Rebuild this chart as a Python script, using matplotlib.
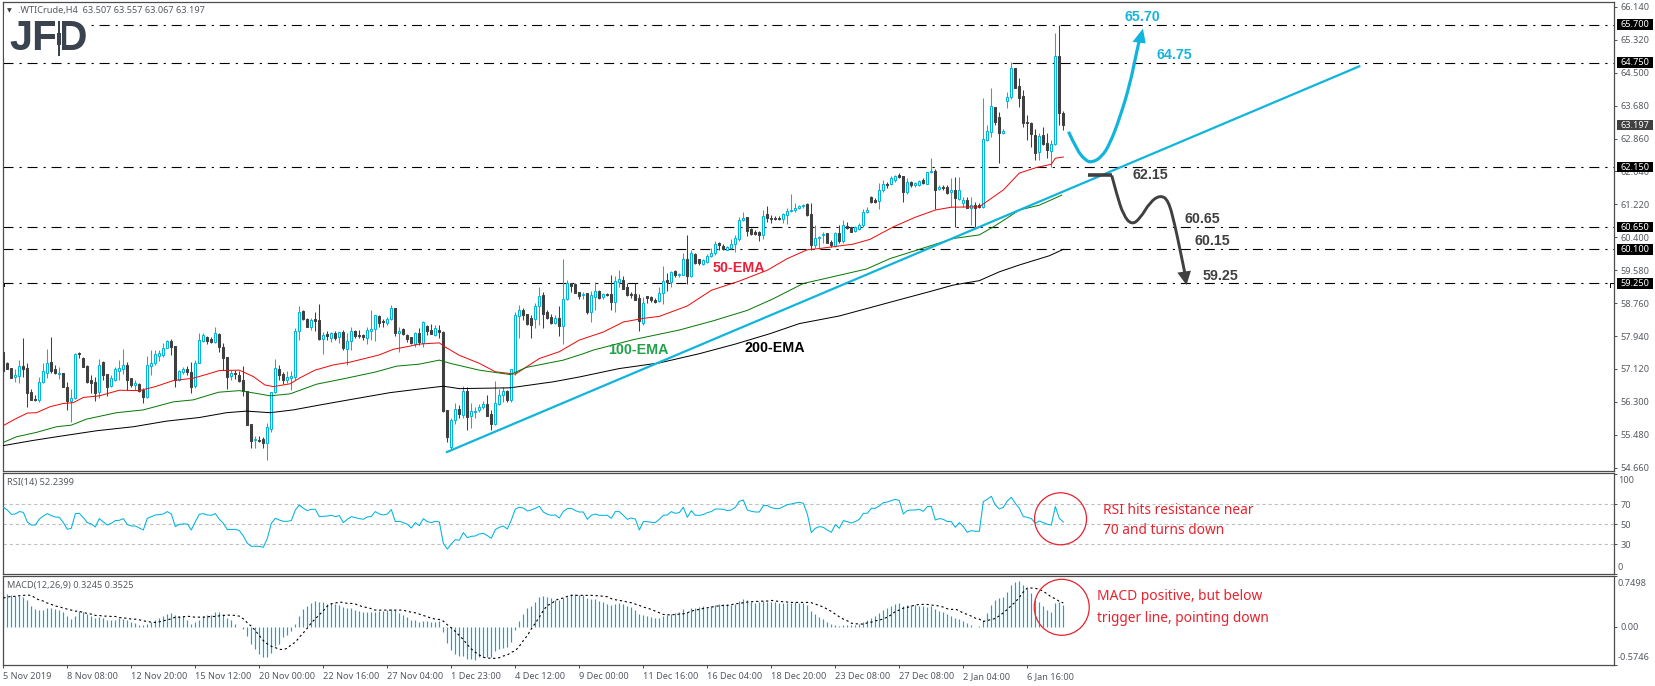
# -*- coding: utf-8 -*-
# WTI H4 chart: candles + EMAs, RSI and MACD panels, with the hand-drawn scenario arrows
import numpy as np
import matplotlib.pyplot as plt
from matplotlib.patches import Ellipse, PathPatch, Polygon, Rectangle
from matplotlib.path import Path

plt.rcParams['font.family'] = ['Noto Sans', 'DejaVu Sans']
plt.rcParams['lines.scale_dashes'] = False

# ---------------------------------------------------------------- candles
highs = [
    57.54,57.30,57.14,57.11,57.34,57.90,57.28,56.61,56.47,56.93,
    57.26,57.62,57.92,57.22,57.17,57.01,56.79,56.61,57.51,57.53,
    57.43,57.22,56.97,56.93,57.38,57.32,57.00,56.97,57.18,57.34,
    57.61,57.30,56.89,56.85,56.76,56.64,57.44,57.58,57.58,57.58,
    57.76,57.84,57.87,57.68,57.09,57.18,57.19,57.30,57.34,58.01,
    58.02,57.95,57.91,58.16,58.01,57.76,57.42,57.09,57.09,57.08,
    57.19,56.56,55.75,55.45,55.45,55.42,55.77,56.54,57.37,57.22,
    57.04,57.08,57.08,58.13,58.69,58.59,58.38,58.38,58.55,58.74,
    58.05,58.07,58.05,58.07,58.05,58.09,58.02,58.16,58.09,58.09,
    57.99,58.17,58.59,58.46,58.46,58.36,58.41,58.71,58.65,58.16,
    58.13,57.99,57.92,58.05,58.13,58.31,58.21,58.23,58.21,58.21,
    58.06,56.09,55.89,56.26,56.22,56.69,56.68,56.28,56.16,56.24,
    56.33,56.47,56.09,56.82,56.61,56.68,56.59,57.13,58.54,58.71,
    58.63,58.50,58.46,58.77,59.17,59.04,58.58,58.50,58.46,58.68,
    59.87,59.33,59.26,59.25,59.04,59.04,59.00,59.07,59.29,59.08,
    59.02,59.00,59.46,59.43,59.58,59.43,59.25,59.04,59.25,58.98,
    58.92,58.95,58.93,58.90,59.15,59.68,59.50,59.55,59.58,59.51,
    60.00,60.45,60.08,60.00,59.87,59.87,59.98,60.14,60.31,60.29,
    60.24,60.18,60.37,60.45,60.91,61.03,60.91,60.62,60.59,60.56,
    61.09,61.17,60.95,60.92,60.92,61.01,61.14,61.47,61.26,61.20,
    61.24,61.26,61.26,60.70,60.43,60.52,60.50,60.33,60.54,60.71,
    60.83,60.79,60.66,60.68,60.75,61.11,61.15,61.43,61.37,61.76,
    61.84,61.79,61.93,61.95,62.01,61.93,61.87,61.81,61.79,61.84,
    61.87,62.03,62.37,62.09,61.70,61.70,61.70,61.87,61.91,61.91,
    61.41,61.40,61.41,61.29,61.25,63.87,63.20,64.12,63.65,63.53,
    63.11,64.03,64.76,64.63,64.36,64.07,63.45,63.27,63.11,62.99,
    63.15,63.01,62.82,65.50,65.70,63.557,
]
body_hi = [
    57.54,57.28,57.14,56.96,57.19,57.19,57.14,56.55,56.36,56.79,
    57.06,57.28,57.29,57.11,57.02,57.01,56.66,56.39,57.49,57.51,
    57.39,57.19,56.85,56.79,57.23,57.29,56.99,56.89,57.11,57.14,
    57.23,57.23,56.89,56.76,56.75,56.60,57.23,57.28,57.49,57.51,
    57.64,57.82,57.82,57.68,57.06,57.11,57.11,57.04,57.26,57.83,
    57.96,57.92,57.87,58.01,57.99,57.67,57.42,57.02,57.02,56.98,
    56.85,56.56,55.75,55.37,55.35,55.37,55.67,56.54,57.14,57.11,
    56.99,56.91,56.95,58.07,58.55,58.57,58.36,58.34,58.36,58.34,
    57.96,57.98,58.01,58.01,58.04,58.04,57.82,58.06,58.06,57.96,
    57.96,58.08,58.11,58.46,58.44,58.31,58.36,58.65,58.65,58.07,
    58.11,57.97,57.91,58.01,58.01,58.29,58.19,58.10,58.13,58.10,
    58.05,56.09,55.85,56.11,56.13,56.57,56.57,56.06,56.08,56.18,
    56.24,56.24,55.99,56.26,56.46,56.56,56.58,57.11,58.46,58.58,
    58.58,58.48,58.38,58.68,58.93,58.96,58.54,58.41,58.39,58.38,
    58.86,59.26,59.25,59.23,59.03,58.99,59.00,58.96,59.05,59.07,
    58.98,58.98,58.98,59.30,59.36,59.33,59.17,58.98,58.98,58.88,
    58.77,58.93,58.91,58.85,59.00,59.31,59.33,59.54,59.56,59.48,
    59.85,59.85,60.00,59.98,59.85,59.83,59.93,60.02,60.23,60.26,
    60.19,60.16,60.24,60.39,60.84,60.89,60.90,60.60,60.53,60.52,
    60.94,60.97,60.89,60.88,60.88,60.97,61.06,61.09,61.14,61.17,
    61.21,61.24,60.97,60.39,60.41,60.48,60.50,60.29,60.50,60.50,
    60.70,60.69,60.65,60.65,60.70,61.03,61.07,61.41,61.32,61.59,
    61.74,61.74,61.87,61.93,61.95,61.93,61.78,61.78,61.76,61.81,
    61.83,62.02,62.05,62.06,61.66,61.66,61.66,61.58,61.58,61.57,
    61.34,61.34,61.20,61.20,61.20,62.86,63.06,63.66,63.64,63.40,
    63.06,63.89,64.61,64.62,64.18,63.92,63.27,63.26,62.96,62.92,
    62.95,62.76,62.72,64.91,64.91,63.507,
]
body_lo = [
    57.08,57.13,56.90,56.93,56.95,57.13,56.52,56.35,56.35,56.35,
    56.79,57.03,57.07,57.01,57.00,56.68,56.32,56.33,56.39,57.49,
    57.18,56.80,56.78,56.53,56.54,56.97,56.68,56.70,56.85,57.08,
    57.13,56.85,56.71,56.72,56.57,56.43,56.43,57.20,57.28,57.45,
    57.46,57.65,57.66,56.85,56.85,57.05,57.04,56.68,56.70,57.28,
    57.81,57.82,57.80,57.78,57.67,57.40,56.93,56.95,56.99,56.82,
    56.56,55.72,55.32,55.34,55.33,55.27,55.27,55.63,56.54,56.96,
    56.85,56.85,56.90,56.93,58.06,58.36,58.17,58.17,58.32,57.87,
    57.86,57.94,57.90,57.90,57.91,57.64,57.62,57.82,57.94,57.94,
    57.91,57.90,58.06,58.11,58.27,58.28,58.27,58.36,58.02,58.02,
    57.99,57.87,57.76,57.74,57.80,57.77,58.07,58.00,57.96,58.04,
    56.08,55.43,55.18,55.85,55.99,55.97,55.93,55.94,56.04,56.09,
    56.16,55.96,55.76,55.75,56.24,56.46,56.34,56.34,57.05,58.45,
    58.47,58.24,58.21,58.36,58.68,58.48,58.39,58.27,58.27,58.19,
    58.19,58.86,59.19,59.02,58.93,58.96,58.53,58.54,58.92,58.90,
    58.91,58.96,58.79,58.79,59.29,59.12,58.96,58.96,58.85,58.32,
    58.27,58.89,58.83,58.80,58.81,59.00,59.29,59.29,59.45,59.46,
    59.46,59.43,59.43,59.75,59.75,59.73,59.79,59.93,60.00,60.21,
    60.10,60.09,60.14,60.24,60.37,60.83,60.56,60.49,60.48,60.45,
    60.46,60.87,60.86,60.86,60.85,60.85,60.95,61.06,61.07,61.12,
    61.17,60.96,60.20,60.21,60.38,60.45,60.27,60.20,60.18,60.30,
    60.30,60.63,60.52,60.55,60.60,60.70,61.04,61.29,61.27,61.31,
    61.57,61.71,61.73,61.83,61.91,61.54,61.54,61.70,61.70,61.71,
    61.75,61.74,62.02,61.58,61.60,61.62,61.51,61.54,61.37,61.36,
    61.26,61.14,61.14,61.14,61.16,61.16,62.82,63.03,63.28,63.01,
    63.00,63.79,63.89,64.13,63.87,63.25,63.25,62.97,62.51,62.52,
    62.72,62.57,62.56,62.72,63.50,63.197,
]
lows = [
    57.08,57.13,56.90,56.80,56.78,56.93,56.16,56.35,56.31,56.29,
    56.76,56.89,57.01,57.00,56.87,56.66,56.10,55.81,56.36,57.40,
    57.16,56.78,56.51,56.31,56.39,56.85,56.45,56.66,56.83,56.85,
    57.00,56.60,56.68,56.60,56.55,56.26,56.39,56.97,57.22,57.33,
    57.43,57.63,57.47,56.68,56.83,57.00,56.97,56.51,56.64,57.26,
    57.79,57.74,57.77,57.76,57.55,57.09,56.62,56.85,56.86,56.80,
    56.45,55.72,55.14,55.15,55.30,55.14,54.85,55.55,56.51,56.85,
    56.75,56.76,56.60,56.85,57.84,58.34,58.16,58.09,58.07,57.84,
    57.49,57.84,57.80,57.84,57.76,57.59,57.22,57.59,57.88,57.88,
    57.84,57.74,57.84,57.82,58.17,58.17,58.21,58.34,57.94,57.53,
    57.97,57.80,57.74,57.66,57.72,57.67,57.96,57.99,57.94,57.88,
    56.05,55.31,55.10,55.76,55.89,55.89,55.60,55.64,55.89,56.05,
    56.11,55.94,55.60,55.72,56.22,56.30,56.30,56.30,56.97,57.88,
    58.33,58.21,57.88,58.13,58.21,58.15,58.36,58.24,58.25,57.94,
    57.75,58.83,59.04,59.00,58.87,58.87,58.48,58.29,58.58,58.87,
    58.87,58.93,58.60,58.54,59.17,59.10,58.93,58.90,58.83,58.07,
    58.21,58.77,58.78,58.77,58.78,58.73,59.07,59.17,59.40,59.40,
    59.45,59.23,59.40,59.73,59.71,59.71,59.76,59.91,59.97,60.08,
    60.08,60.08,60.12,60.04,60.31,60.81,60.43,60.45,60.45,60.30,
    60.37,60.78,60.76,60.83,60.83,60.76,60.73,61.03,61.03,61.10,
    61.14,60.94,60.08,60.14,60.12,60.25,60.25,60.15,60.15,60.27,
    60.27,60.60,60.52,60.53,60.58,60.66,61.00,61.26,61.25,61.10,
    61.54,61.64,61.70,61.79,61.87,61.29,61.49,61.66,61.66,61.68,
    61.73,61.73,61.99,61.10,61.58,61.58,61.48,61.16,60.65,61.33,
    61.16,61.12,60.71,60.66,61.12,61.14,62.81,62.89,63.20,62.26,
    62.97,63.63,63.84,64.12,63.64,63.15,62.82,62.64,62.32,62.32,
    62.70,62.37,62.16,62.70,63.20,63.067,
]
# c = up candle (hollow), d = down candle (filled)
directions = (
    "dddccddddc" "ccddcddccd" "ddddcddccc" "cddcddcccc" "ccddccddcc"
    "cddcdddcdd" "dddcddcccd" "dccccddcdd" "cdcdcdccdd" "dcccddccdc"
    "dddcdcddcd" "ddccdcdccc" "cddcccdccc" "dddccdddcd" "ccdddcdccd"
    "cddccddddd" "cdddccdcdc" "cdcddccccd" "dcccccdddd" "cddddccccc"
    "cddcccddcd" "cddccccddc" "cdccddcdcc" "dccdcddcdc" "cdcddcccdd"
    "cccddddddc" "ddccdd"
)

# ---------------------------------------------------------------- moving averages
ema50_bars = [0,3.3,6,8.3,11.7,15,17.5,20,24,29,34,38,42.5,47.5,51,54,59,62.5,65.4,67.5,71.7,74,77.9,82.5,86.7,94,97.5,101.7,104,
              109,110.4,114,119,123,128,134,139,144,150,155,160,164,171,177,184,191,196,201,204,212.5,216.7,222.5,228,233,237,244,250,254,258.3,262,263,265]
ema50_vals = [55.71,55.89,56.02,56.03,56.18,56.26,56.28,56.41,56.45,56.59,56.58,56.68,56.83,56.89,56.99,57.08,57.09,56.93,56.72,56.68,56.75,56.89,57.09,57.22,57.29,57.47,57.61,57.69,57.74,
              57.77,57.67,57.46,57.26,57.05,56.99,57.38,57.55,57.84,58.04,58.29,58.38,58.43,58.69,59.08,59.31,59.58,59.87,60.09,60.12,60.23,60.35,60.66,60.90,61.08,61.15,61.16,61.58,62.00,62.14,62.22,62.37,62.40]
ema100_bars = [0,3.3,8.3,13.3,17,20.8,28.3,35,42.5,47.5,53.8,59,63.3,66.7,71.7,78.3,85.8,93.3,98.3,104,
               109,111.7,119,126.7,130.8,140,145,147.5,157.5,169,177.5,186,192.5,200,204,215.8,221.7,229,237.5,244,247.5,250.8,254,259,264.6]
ema100_vals = [55.29,55.43,55.54,55.68,55.72,55.87,56.03,56.10,56.30,56.35,56.54,56.58,56.51,56.45,56.50,56.74,56.89,57.05,57.19,57.24,
               57.34,57.26,57.09,56.98,57.16,57.34,57.50,57.59,57.85,58.09,58.32,58.58,58.87,59.25,59.34,59.61,59.87,60.10,60.37,60.46,60.66,60.87,61.08,61.20,61.45]
ema200_bars = [0,7.5,13.3,23.3,32.5,40.8,49,55.8,60.8,66.7,72.5,79,87.5,96.7,104,
               110,114,126.7,137.5,144,154,164,174,183,191.7,199,209,224.6,231.7,237.5,244,249,254,261.5,265]
ema200_vals = [55.21,55.34,55.43,55.58,55.68,55.82,55.91,56.03,56.07,56.03,56.10,56.22,56.37,56.53,56.62,
               56.69,56.63,56.65,56.80,56.92,57.13,57.27,57.50,57.74,58.00,58.25,58.44,58.86,59.05,59.21,59.32,59.54,59.71,59.94,60.10]

# ---------------------------------------------------------------- RSI(14)
rsi = [
    67,64.3,60,60.3,62.7,62,52.3,49.3,49.3,55.3,58.3,60.7,58.7,57.3,57,51.7,45,46,60.7,61,
    56.7,51.7,50.3,47.3,55.7,52.3,49.3,51,53.7,54,55.7,49.7,48.3,48.3,46.3,44.3,56,57.7,59.3,59.7,
    60.3,62.7,60.3,47.7,50,50.3,50.3,44.3,52.7,60,60.7,59.3,59,60.7,55,51,44.7,44.7,45,43.7,
    38.3,31,28,28,28,27,36,51,56,54.3,53,53,53.7,64.3,69.3,66,63.7,65,65,57.7,
    58,58.3,59,57.7,58.7,51.7,55,57.7,56.7,55.7,
    55,57.3,58,62.7,60.3,59.3,60.3,64.7,52.7,53,51.7,50,46.3,51.7,48.7,55.7,52.7,51.7,53,52.3,
    31,25.3,30.3,34.7,34,41.7,36.7,38,38.3,40.3,41,38.7,36,44.7,47,48.3,45.3,54.3,65.3,67,
    66.3,63.3,64.3,66,68,62.3,60,59,59.3,56.3,62.7,65.7,66,63.7,62.3,62.3,55,59,60.3,59,
    59,59,56,62.7,62.7,59,55,56.3,55.3,44.3,52.7,52.7,52,51.7,55,59,59.3,62.7,61,61.7,
    67,57,63.7,59,59,59.7,61.7,62.7,65.3,65.3,
    65,63.7,64.3,67,73,74.3,64.3,63,62.3,62.3,68.7,68.7,66.7,65.7,65.7,67.7,69.7,70.3,71.3,72,
    71,60.3,41.7,46,47.7,47,44.3,42,49.7,46,53.7,52.7,51.3,52.7,55,61,61,66,66,68.3,
    71.7,72.3,73.7,75,73.7,60.3,63.7,64.3,64.3,65,63,67.7,68,54.3,55.7,55,52.7,52.7,47,51.7,
    47.7,42,43.7,43,43,72.7,75,78,69.3,65.3,67,73.3,77,71,66,57.7,57,55.7,51,53.3,
    51.7,50,49.3,67.7,56,52.24,
]

# ---------------------------------------------------------------- MACD(12,26,9)
macd_hist = [
    .483,.483,.468,.463,.458,.448,.403,.308,.259,.249,.254,.279,.279,.269,.244,.224,.164,.114,.159,.229,
    .224,.194,.164,.124,.144,.134,.104,.100,.104,.124,.119,.104,.07,.05,.025,.02,.04,.065,.09,.129,
    .164,.189,.199,.174,.154,.154,.09,.045,.065,.104,.154,.179,.179,.219,.224,.194,.124,.10,.045,0,
    -.035,-.139,-.259,-.343,-.408,-.448,-.453,-.388,-.294,-.259,-.159,-.134,-.07,.04,.164,.264,.313,.358,.383,.373,
    .373,.338,.348,.343,.318,.284,.274,.274,.254,.229,
    .214,.219,.219,.224,.234,.239,.249,.259,.244,.204,.174,.144,.10,.10,.065,.08,.08,.065,.07,.075,
    -.085,-.244,-.348,-.408,-.438,-.443,-.483,-.483,-.498,-.458,-.458,-.458,-.458,-.373,-.333,-.328,-.308,-.229,-.055,.085,
    .189,.274,.313,.368,.448,.458,.443,.428,.393,.403,.428,.448,.488,.488,.478,.468,.433,.413,.413,.378,
    .363,.343,.328,.343,.353,.343,.303,.294,.254,.184,.174,.164,.144,.134,.134,.164,.174,.194,.209,.219,
    .264,.224,.279,.274,.289,.303,.279,.303,.328,.338,
    .333,.333,.328,.338,.383,.413,.393,.368,.353,.368,.378,.373,.373,.363,.358,.353,.353,.353,.363,.353,
    .348,.323,.234,.189,.144,.114,.065,.04,.025,.005,.025,.025,.025,.03,.045,.065,.10,.129,.159,.204,
    .249,.279,.308,.338,.348,.313,.323,.318,.328,.308,.303,.294,.303,.264,.239,.214,.189,.164,.129,.119,
    .085,.05,.03,0,.01,.09,.204,.323,.398,.428,.448,.517,.622,.672,.682,.622,.572,.502,.403,.368,
    .308,.254,.219,.353,.363,.3245,
]
macd_signal = [
    .425,.44,.45,.45,.46,.465,.47,.465,.425,.395,.38,.35,.33,.305,.295,.275,.26,.245,.23,.225,
    .21,.195,.185,.165,.165,.155,.155,.15,.15,.135,.125,.125,.11,.11,.10,.085,.075,.065,.06,.07,
    .085,.10,.115,.14,.14,.145,.155,.145,.14,.14,.14,.145,.15,.15,.16,.165,.17,.17,.165,.155,
    .115,.055,.005,-.06,-.135,-.21,-.26,-.295,-.315,-.34,-.345,-.325,-.27,-.235,-.16,-.095,-.025,.055,.115,.175,
    .235,.305,.34,.35,.365,.36,.345,.345,.335,.315,
    .29,.285,.265,.245,.245,.245,.245,.245,.245,.245,.245,.225,.215,.205,.185,.165,.145,.125,.11,.105,
    .08,.025,-.02,-.075,-.135,-.195,-.27,-.335,-.385,-.425,-.46,-.47,-.475,-.475,-.465,-.44,-.425,-.385,-.36,-.295,
    -.21,-.135,-.035,.05,.14,.24,.315,.34,.39,.415,.425,.45,.465,.465,.465,.465,.465,.465,.46,.46,
    .45,.445,.415,.40,.39,.38,.365,.355,.335,.315,.29,.275,.255,.23,.205,.18,.175,.175,.18,.185,
    .19,.205,.23,.245,.255,.27,.28,.29,.30,.31,
    .315,.315,.325,.34,.345,.355,.365,.37,.375,.375,.38,.38,.39,.38,.375,.37,.365,.36,.36,.36,
    .36,.36,.355,.335,.315,.29,.26,.225,.185,.145,.11,.085,.05,.04,.04,.035,.055,.065,.085,.095,
    .115,.14,.175,.225,.245,.275,.285,.305,.32,.33,.33,.33,.32,.315,.305,.29,.265,.255,.26,.235,
    .20,.18,.155,.125,.11,.075,.09,.105,.12,.16,.205,.255,.315,.365,.435,.515,.575,.575,.57,.555,
    .525,.485,.44,.415,.375,.3525,
]

# ---------------------------------------------------------------- levels and annotations
level_values = [65.70, 64.75, 62.15, 60.65, 60.10, 59.25]
level_labels = ['65.700', '64.750', '62.150', '60.650', '60.100', '59.250']
price_ticks = [66.14, 65.32, 64.50, 63.68, 62.86, 62.04, 61.22, 60.40, 59.58,
               58.76, 57.94, 57.12, 56.30, 55.48, 54.66]
time_labels = ['5 Nov 2019', '8 Nov 08:00', '12 Nov 20:00', '15 Nov 12:00', '20 Nov 00:00',
               '22 Nov 16:00', '27 Nov 04:00', '1 Dec 23:00', '4 Dec 12:00', '9 Dec 00:00',
               '11 Dec 16:00', '16 Dec 04:00', '18 Dec 20:00', '23 Dec 08:00', '27 Dec 08:00',
               '2 Jan 04:00', '6 Jan 16:00']

trend_bars = [110.9, 339]
trend_vals = [55.05, 64.66]
up_path_bars = [266.3, 268.4, 270.5, 272.1, 274.6, 276.7, 279.2, 281.7, 283.4, 284.2]
up_path_vals = [63.03, 62.57, 62.32, 62.26, 62.40, 62.74, 63.40, 64.23, 65.06, 65.39]
up_head_bars = [282.3, 285.6, 284.9]
up_head_vals = [65.27, 65.23, 65.60]
flat_bars = [271.25, 277.1]
flat_vals = [61.94, 61.94]
down_path_bars = [277.1, 278.3, 280, 282.1, 284.2, 286.7, 289.2, 291.25, 292.9, 294.2, 295.4]
down_path_vals = [61.94, 61.49, 60.95, 60.71, 60.87, 61.28, 61.45, 61.33, 60.70, 60.08, 59.50]
down_head_bars = [293.5, 296.9, 295.8]
down_head_vals = [59.52, 59.57, 59.21]

assert len(highs) == len(body_hi) == len(body_lo) == len(lows) == len(directions) == 266, \
    (len(highs), len(body_hi), len(body_lo), len(lows), len(directions))
assert len(rsi) == len(macd_hist) == len(macd_signal) == 266, (len(rsi), len(macd_hist), len(macd_signal))

# ---------------------------------------------------------------- figure and panels
W, H = 1655, 686
LEFT, RIGHT = 2.5, 1614
CYAN = '#00B4E0'
DRAW_CYAN = '#10B4DC'
DARK = '#404040'
FRAME = '#4d4d4d'
TICK_TXT = '#555b62'
RED = '#E8222E'
BOLD = 'Liberation Sans'
DASHDOT = (0, (7.2, 4.3, 1.6, 4.2))

fig = plt.figure(figsize=(W / 100, H / 100), dpi=100, facecolor='white')


def panel(top, bottom):
    ax = fig.add_axes([LEFT / W, 1 - bottom / H, (RIGHT - LEFT) / W, (bottom - top) / H])
    ax.set_xlim((LEFT - 3.33) / 4, (RIGHT - 3.33) / 4)
    ax.yaxis.tick_right()
    ax.tick_params(axis='y', length=2.5, width=0.7, color=FRAME, labelsize=6.6,
                   labelcolor=TICK_TXT, pad=2)
    ax.set_xticks([])
    for s in ax.spines.values():
        s.set_color(FRAME)
        s.set_linewidth(0.9)
    return ax


def smooth_curve(ax, xs, ys, color, lw, zorder):
    # quadratic segments through the read points, for the hand-drawn arrows
    verts = [(xs[0], ys[0])]
    codes = [Path.MOVETO]
    for k in range(1, len(xs) - 1):
        verts.append((xs[k], ys[k]))
        if k < len(xs) - 2:
            verts.append(((xs[k] + xs[k + 1]) / 2, (ys[k] + ys[k + 1]) / 2))
        else:
            verts.append((xs[-1], ys[-1]))
        codes += [Path.CURVE3, Path.CURVE3]
    ax.add_patch(PathPatch(Path(verts, codes), facecolor='none', edgecolor=color, lw=lw,
                           capstyle='butt', zorder=zorder))


ax_main = panel(2.3, 471.3)
ax_rsi = panel(473.3, 574.3)
ax_macd = panel(576.3, 665)

# --- main panel
bars = np.arange(len(highs))
ax_main.set_ylim(54.57, 66.255)
ax_main.set_yticks(price_ticks)
ax_main.set_yticklabels([f'{p:.3f}' for p in price_ticks])

for lv in level_values:
    ax_main.axhline(lv, color='black', lw=0.8, ls=DASHDOT, zorder=1)

up = np.array([d == 'c' for d in directions])
wick_col = [CYAN if u else DARK for u in up]
ax_main.vlines(bars, lows, highs, colors=wick_col, lw=0.75, zorder=2)
heights = np.maximum(np.array(body_hi) - np.array(body_lo), 0.015)
ax_main.bar(bars[up], heights[up], bottom=np.array(body_lo)[up], width=0.55,
            facecolor='white', edgecolor=CYAN, linewidth=0.75, zorder=3)
ax_main.bar(bars[~up], heights[~up], bottom=np.array(body_lo)[~up], width=0.55,
            facecolor=DARK, edgecolor=DARK, linewidth=0.75, zorder=3)

ax_main.plot(ema50_bars, ema50_vals, color='#f00a0a', lw=0.72, zorder=4)
ax_main.plot(ema100_bars, ema100_vals, color='#087a08', lw=0.72, zorder=4)
ax_main.plot(ema200_bars, ema200_vals, color='black', lw=0.72, zorder=4)

ax_main.plot(trend_bars, trend_vals, color=DRAW_CYAN, lw=1.6, zorder=5)

smooth_curve(ax_main, up_path_bars, up_path_vals, DRAW_CYAN, 2.3, 5)
ax_main.add_patch(Polygon(np.column_stack([up_head_bars, up_head_vals]), closed=True,
                          facecolor=DRAW_CYAN, edgecolor='none', zorder=5))
ax_main.plot(flat_bars, flat_vals, color=DARK, lw=2.6, solid_capstyle='butt', zorder=6)
smooth_curve(ax_main, down_path_bars, down_path_vals, DARK, 2.1, 6)
ax_main.add_patch(Polygon(np.column_stack([down_head_bars, down_head_vals]), closed=True,
                          facecolor=DARK, edgecolor='none', zorder=6))

# scenario price labels
for bar, val, txt, col in [(280.4, 65.88, '65.70', '#18B4DE'),
                           (288.4, 64.94, '64.75', '#18B4DE'),
                           (282.2, 61.95, '62.15', DARK),
                           (295.4, 60.86, '60.65', DARK),
                           (297.7, 60.31, '60.15', DARK),
                           (299.7, 59.43, '59.25', DARK)]:
    ax_main.text(bar, val, txt, color=col, fontsize=10.3, fontweight='bold', family=BOLD,
                 va='center', ha='left', zorder=7)
ax_main.text(177.4, 59.63, '50-EMA', color='#E8203C', fontsize=10.3, fontweight='bold',
             family=BOLD, va='center', zorder=7)
ax_main.text(151.2, 57.59, '100-EMA', color='#22A24A', fontsize=10.3, fontweight='bold',
             family=BOLD, va='center', zorder=7)
ax_main.text(185.2, 57.64, '200-EMA', color='black', fontsize=10.3, fontweight='bold',
             family=BOLD, va='center', zorder=7)

# price boxes on the right scale
trans = ax_main.get_yaxis_transform()
box_x = 1 + 2.5 / (RIGHT - LEFT)
box_w = 36 / (RIGHT - LEFT)
text_x = 1 + 6.5 / (RIGHT - LEFT)
for lv, lab in zip(level_values + [63.197], level_labels + ['63.197']):
    col = DARK if lab == '63.197' else 'black'
    ax_main.add_patch(Rectangle((box_x, lv - 0.13), box_w, 0.26, transform=trans,
                                facecolor=col, edgecolor='none', clip_on=False, zorder=8))
    ax_main.text(text_x, lv, lab, transform=trans, color='white', fontsize=6.6,
                 va='center', ha='left', clip_on=False, zorder=9)
# small corner marks at both ends of the lowest level
ax_main.plot([0.05, 0.05, 1.2], [59.18, 59.27, 59.27], color='black', lw=0.7, zorder=2)
ax_main.plot([401.7, 401.7, 402.5], [59.17, 59.27, 59.27], color='black', lw=0.7, zorder=2)

# --- RSI panel
ax_rsi.set_ylim(0, 101)
ax_rsi.set_yticks([100, 70, 50, 30, 0])
ax_rsi.set_yticklabels(['', '70', '50', '30', ''])
for lv in (70, 50, 30):
    ax_rsi.axhline(lv, color='#c0c0c0', lw=0.8, ls=(0, (2.4, 2.0)), zorder=1)
ax_rsi.plot(bars, rsi, color=CYAN, lw=0.75, zorder=3)
ax_rsi.add_patch(Ellipse((264.3, 55.5), 13, 52, facecolor='none', edgecolor=RED, lw=0.9,
                         clip_on=False, zorder=5))

# --- MACD panel
ax_macd.set_ylim(-0.5746, 0.7498)
ax_macd.set_yticks([0.7498, 0, -0.5746])
ax_macd.set_yticklabels(['', '0.00', ''])
ax_macd.vlines(bars, 0, macd_hist, colors='#12A6C9', lw=0.85, zorder=2)
ax_macd.plot(bars, macd_signal, color='black', lw=0.8, ls=(0, (1.6, 2.0)), zorder=3)
ax_macd.add_patch(Ellipse((264.6, 0.287), 13.75, 0.836, facecolor='none', edgecolor=RED, lw=0.9,
                          clip_on=False, zorder=5))
ax_macd.set_xticks(np.arange(len(time_labels)) * 16)
ax_macd.set_xticklabels(time_labels, ha='left')
ax_macd.tick_params(axis='x', length=2.5, width=0.7, color=FRAME, labelsize=6.6,
                    labelcolor=TICK_TXT, pad=2.5)


def ptext(x, y, s, **kw):
    # text placed by pixel position in the picture
    kw.setdefault('color', TICK_TXT)
    kw.setdefault('fontsize', 6.6)
    kw.setdefault('va', 'center')
    fig.text(x / W, 1 - y / H, s, **kw)


def pbox(x0, y0, x1, y1, color, zorder):
    # small rectangle placed by pixel position, for the logo
    fig.add_artist(Rectangle((x0 / W, 1 - y1 / H), (x1 - x0) / W, (y1 - y0) / H,
                             transform=fig.transFigure, facecolor=color, edgecolor='none',
                             zorder=zorder))


ptext(1618, 480.7, '100')
ptext(1618, 567, '0')
ptext(1618, 583, '0.7498')
ptext(1618, 658, '-0.5746')

ptext(6.5, 10.5, '\u25BC', fontsize=4.5, color='#404040')
ptext(18.3, 10.5, '.WTICrude,H4  63.507 63.557 63.067 63.197')
ptext(7, 482, 'RSI(14) 52.2399')
ptext(7, 585.7, 'MACD(12,26,9) 0.3245 0.3525')

# comments next to the indicators
ptext(1103, 511, 'RSI hits resistance near', color=RED, fontsize=9.9)
ptext(1103, 531, '70 and turns down', color=RED, fontsize=9.9)
ptext(1097, 597, 'MACD positive, but below', color=RED, fontsize=9.9)
ptext(1097, 619, 'trigger line, pointing down', color=RED, fontsize=9.9)

# logo: white patch hides the top level line behind it, candle replaces the stem of the D
pbox(4, 14, 90, 58, 'white', 5)
ptext(9, 38.5, 'JFD', color='#3a434e', fontsize=30, fontweight='bold', family=BOLD, zorder=6)
pbox(55.5, 20, 62.5, 57, 'white', 7)
pbox(58.4, 21, 59.6, 56, '#3a434e', 8)
pbox(57, 33, 61, 45, '#3a434e', 8)

fig.savefig('out.png', dpi=100)
